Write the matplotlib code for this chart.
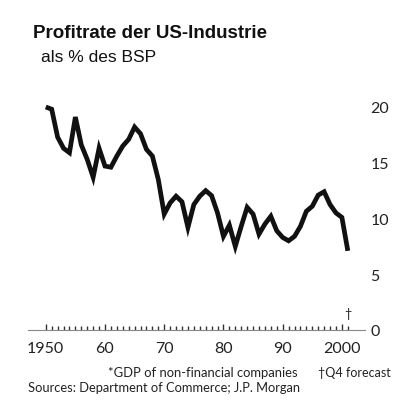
import numpy as np
import matplotlib
matplotlib.use('Agg')
from matplotlib import pyplot as plt
from matplotlib.ticker import FixedLocator, NullFormatter

##==============================================================================
## Profit rate of US industry, % of GDP
##==============================================================================
years = np.arange(1950, 2002)
profit_rate = [20.0, 19.8, 17.3, 16.3, 15.9, 19.1, 16.6, 15.3, 13.7, 16.3,
               14.7, 14.6, 15.6, 16.5, 17.1, 18.2, 17.6, 16.2, 15.6, 13.5,
               10.4, 11.4, 12.0, 11.5, 9.2, 11.25, 12.0, 12.5, 12.05, 10.5,
               8.4, 9.4, 7.5, 9.3, 11.0, 10.4, 8.6, 9.5, 10.2, 8.9,
               8.3, 8.0, 8.4, 9.3, 10.65, 11.1, 12.1, 12.4, 11.25, 10.5,
               10.1, 7.1]
x_ticks = [1950, 1960, 1970, 1980, 1990, 2000]
x_labels = ['1950', '60', '70', '80', '90', '2000']
y_ticks = [0, 5, 10, 15, 20]

W, H = 408, 406
fig = plt.figure(figsize=(W / 100., H / 100.), dpi=100)
fig.patch.set_facecolor('white')

# axes placed in pixels: line from x=28 to 365, zero at y=331
ax = fig.add_axes([28. / W, 1 - 331. / H, 337. / W, (331. - 85.7) / H])
ax.plot(years, profit_rate, color='#111111', linewidth=3.4,
        solid_joinstyle='miter', solid_capstyle='butt')

ax.set_xlim(1947.0, 2003.9)
ax.set_ylim(0, 22)
for s in ['top', 'left', 'right']:
    ax.spines[s].set_visible(False)
ax.spines['bottom'].set_color('#888888')
ax.spines['bottom'].set_linewidth(0.8)

ax.xaxis.set_major_locator(FixedLocator(x_ticks))
ax.set_xticklabels(x_labels, fontfamily='Lato', fontsize=11.5, color='#222222')
ax.xaxis.set_minor_locator(FixedLocator(list(range(1950, 2002))))
ax.xaxis.set_minor_formatter(NullFormatter())
ax.tick_params(axis='x', which='major', direction='in', length=4.5,
               width=1.0, color='#333333', pad=8)
ax.tick_params(axis='x', which='minor', direction='in', length=3,
               width=1.0, color='#333333')

ax.yaxis.tick_right()
ax.set_yticks(y_ticks)
ax.set_yticklabels([str(v) for v in y_ticks], fontfamily='Lato',
                   fontsize=11.5, color='#222222')
ax.tick_params(axis='y', length=0, pad=4)
for lab in ax.get_yticklabels():
    lab.set_horizontalalignment('left')

# dagger over the last (forecast) year
ax.annotate(u'\u2020', xy=(years[-1], 0), xytext=(0, 8),
            textcoords='offset points', ha='center', va='bottom',
            fontfamily='Lato', fontsize=9, color='#222222')

fig.text(33. / W, 1 - 33. / H, 'Profitrate der US-Industrie',
         fontfamily='Liberation Sans', fontweight='bold', fontsize=13.5,
         color='#111111', va='center', ha='left')
fig.text(41. / W, 1 - 57. / H, 'als % des BSP',
         fontfamily='Liberation Sans', fontsize=12.5,
         color='#111111', va='center', ha='left')

fig.text(108. / W, 1 - 373. / H, '*GDP of non-financial companies',
         fontfamily='Lato', fontsize=9.4, color='#222222',
         va='center', ha='left')
fig.text(318. / W, 1 - 373. / H, u'\u2020Q4 forecast',
         fontfamily='Lato', fontsize=9.0, color='#222222',
         va='center', ha='left')
fig.text(28. / W, 1 - 388. / H, 'Sources: Department of Commerce; J.P. Morgan',
         fontfamily='Lato', fontsize=9.3, color='#222222',
         va='center', ha='left')

plt.savefig('out.png', dpi=100, facecolor='white')
